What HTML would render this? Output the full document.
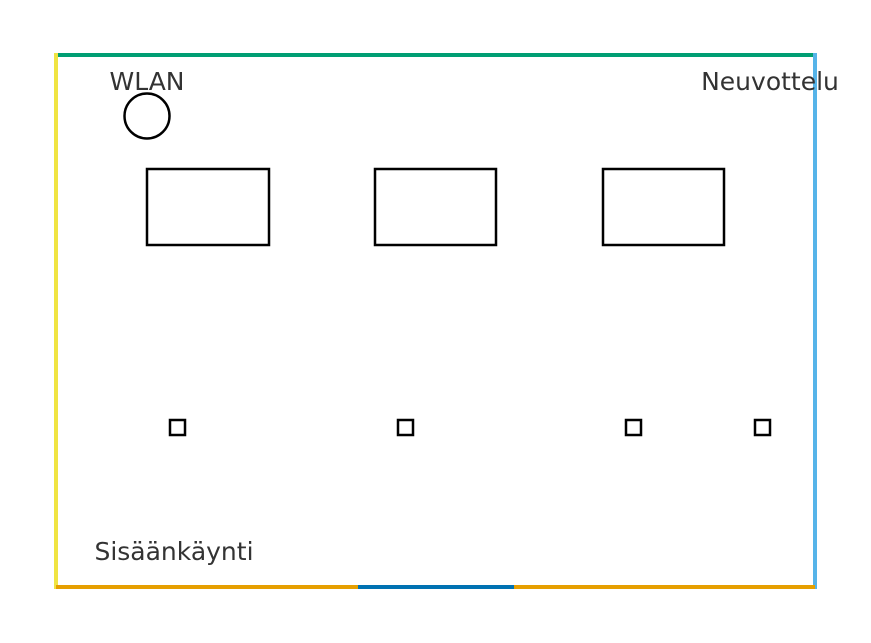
<!DOCTYPE html>
<html><head><meta charset="utf-8"><style>body{margin:0;background:#fff}</style></head><body>
<svg width="871" height="643" xmlns="http://www.w3.org/2000/svg" style="display:block">
<rect width="871" height="643" fill="#fff"/>
<line x1="56" y1="55" x2="815" y2="55" stroke="#009e73" stroke-width="4"/>
<line x1="56" y1="53" x2="56" y2="589" stroke="#f0e442" stroke-width="4"/>
<line x1="815" y1="53" x2="815" y2="589" stroke="#56b4e9" stroke-width="4"/>
<line x1="56" y1="587" x2="358" y2="587" stroke="#e69f00" stroke-width="4"/>
<line x1="358" y1="587" x2="514" y2="587" stroke="#0072b2" stroke-width="4"/>
<line x1="514" y1="587" x2="815" y2="587" stroke="#e69f00" stroke-width="4"/>
<g font-family="DejaVu Sans, Liberation Sans, sans-serif" font-size="25" fill="#333">
<text x="147" y="90" text-anchor="middle">WLAN</text>
<text x="770" y="90" text-anchor="middle">Neuvottelu</text>
<text x="174" y="560" text-anchor="middle">Sisäänkäynti</text>
</g>
<g fill="none" stroke="#000" stroke-width="2.5">
<circle cx="147" cy="116" r="22.5"/>
<rect x="147" y="169" width="122" height="76"/>
<rect x="375" y="169" width="121" height="76"/>
<rect x="603" y="169" width="121" height="76"/>
<rect x="170" y="420" width="15" height="15"/>
<rect x="398" y="420" width="15" height="15"/>
<rect x="626" y="420" width="15" height="15"/>
<rect x="755" y="420" width="15" height="15"/>
</g>
</svg>
</body></html>
